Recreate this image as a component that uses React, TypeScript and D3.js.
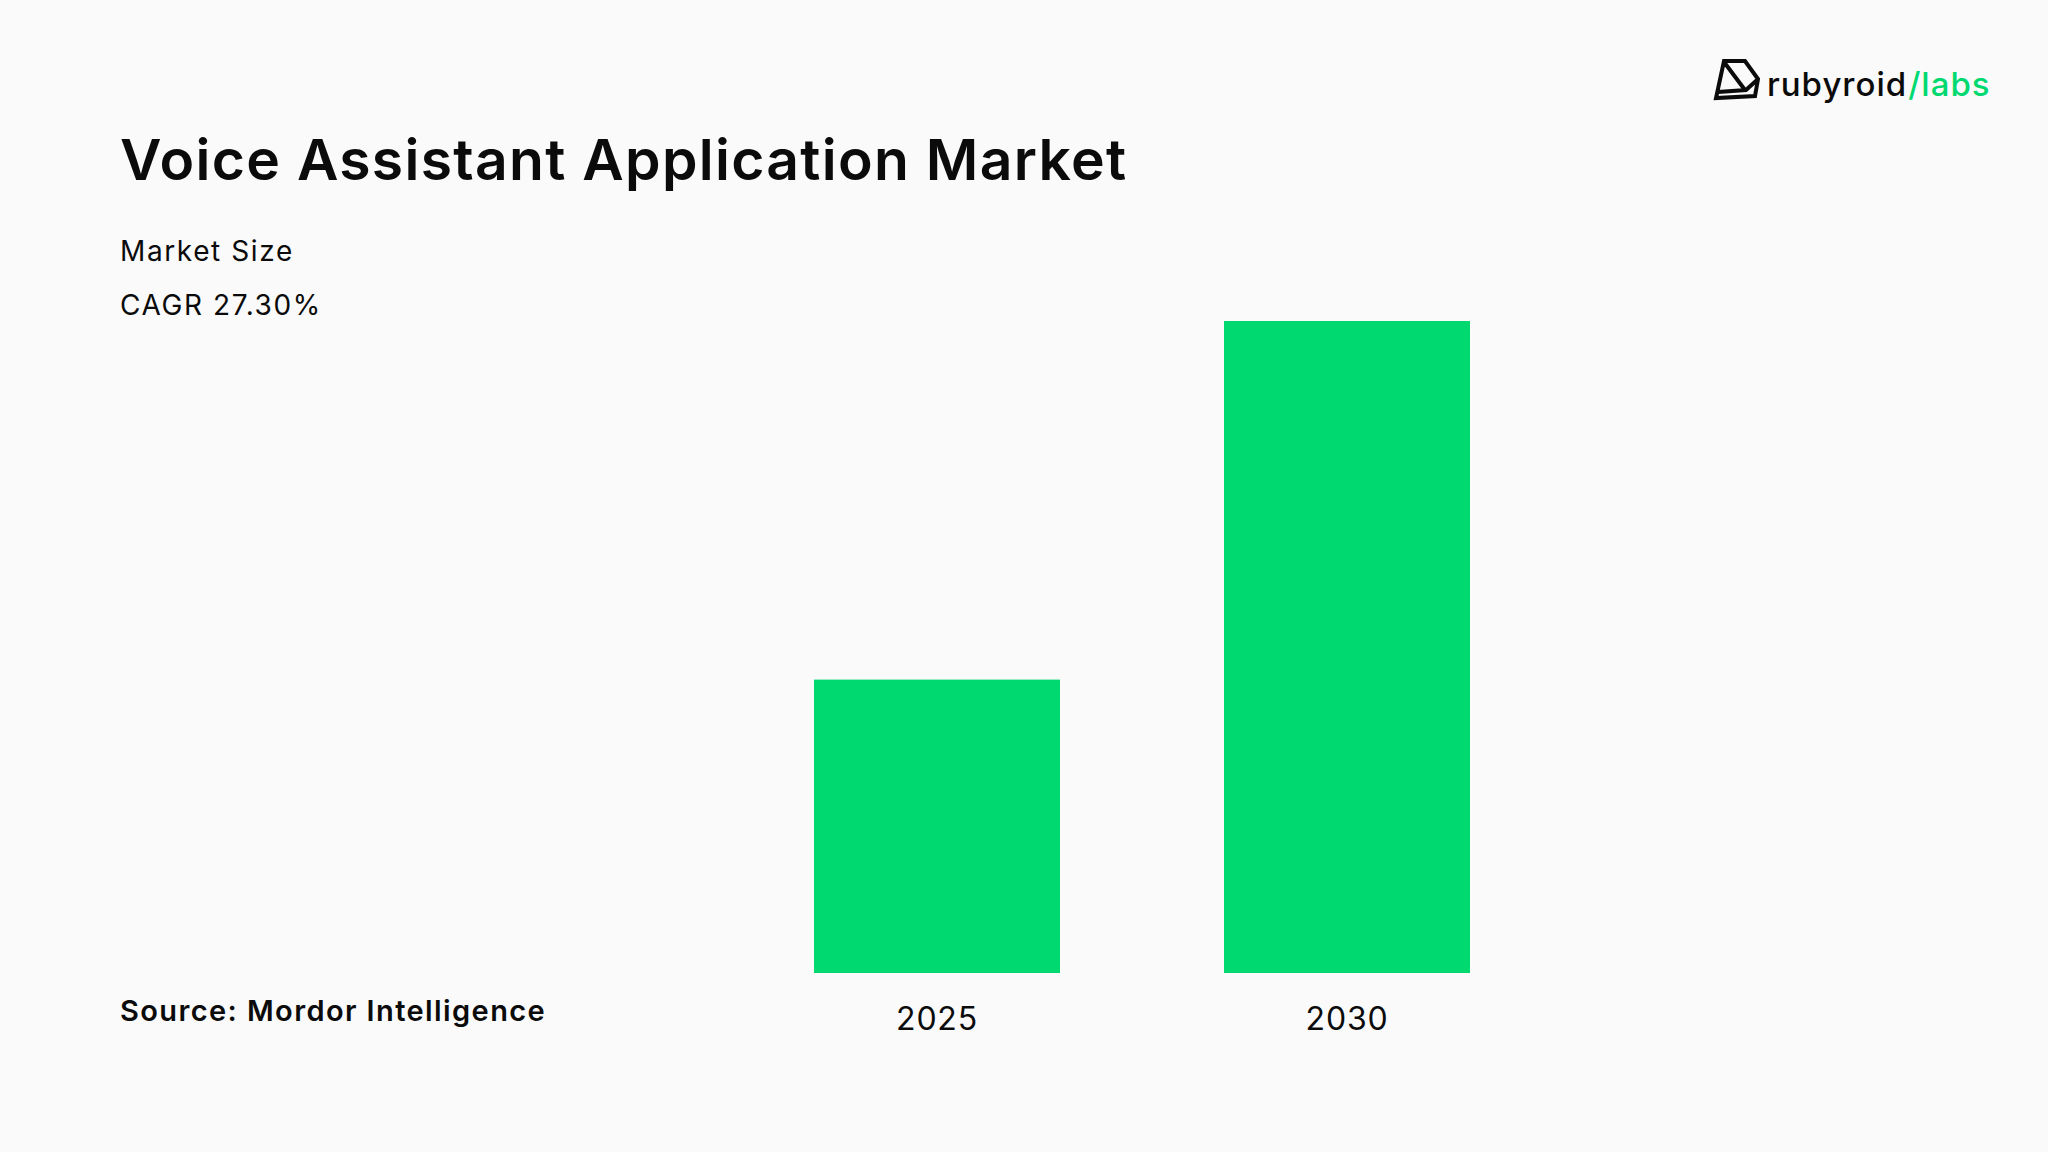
import { useEffect, useRef } from "react"
import * as d3 from "d3"

const years = ["2025", "2030"]
const marketSize = [4.5, 10.0]

const title = "Voice Assistant Application Market"
const subtitles = ["Market Size", "CAGR 27.30%"]
const source = "Source: Mordor Intelligence"

const GREEN = "#00d96f"
const INK = "#0b0b0b"
const FONT = "Inter, 'Noto Sans', sans-serif"

export default function App() {
  const svgRef = useRef(null)

  useEffect(() => {
    const width = 2048
    const height = 1152

    const svg = d3.select(svgRef.current).attr("width", width).attr("height", height)
    svg.selectAll("*").remove()

    svg.append("rect").attr("width", width).attr("height", height).attr("fill", "#fafafa")

    const x = d3.scaleBand().domain(years).range([732, 1552]).paddingInner(0.4).paddingOuter(0.2)
    const y = d3.scaleLinear().domain([0, 10]).range([973, 321])

    // title block
    svg
      .append("text")
      .attr("x", 120)
      .attr("y", 180)
      .attr("font-family", FONT)
      .attr("font-size", 57)
      .attr("font-weight", 600)
      .attr("letter-spacing", 1.3)
      .attr("fill", INK)
      .text(title)

    svg
      .selectAll("text.sub")
      .data(subtitles)
      .enter()
      .append("text")
      .attr("class", "sub")
      .attr("x", 120)
      .attr("y", (d, i) => 261 + i * 54)
      .attr("font-family", FONT)
      .attr("font-size", 28)
      .attr("letter-spacing", 1.6)
      .attr("fill", INK)
      .text((d) => d)

    svg
      .append("text")
      .attr("x", 120)
      .attr("y", 1021)
      .attr("font-family", FONT)
      .attr("font-size", 29)
      .attr("font-weight", 600)
      .attr("letter-spacing", 1.4)
      .attr("fill", INK)
      .text(source)

    // bars
    svg
      .selectAll("rect.bar")
      .data(years)
      .enter()
      .append("rect")
      .attr("class", "bar")
      .attr("x", (d) => x(d))
      .attr("width", x.bandwidth())
      .attr("y", (d, i) => y(marketSize[i]))
      .attr("height", (d, i) => y(0) - y(marketSize[i]))
      .attr("fill", GREEN)

    const axis = d3.axisBottom(x).tickSize(0).tickPadding(0)
    const ax = svg.append("g").attr("transform", `translate(0, ${y(0)})`).call(axis)
    ax.select(".domain").remove()
    ax.selectAll("text")
      .attr("dy", null)
      .attr("y", 57)
      .attr("font-family", FONT)
      .attr("font-size", 32)
      .attr("letter-spacing", 0.8)
      .attr("fill", INK)

    // logo
    const logo = svg.append("g")
    logo
      .append("path")
      .attr("d", "M1724,61 L1745,61 L1758,79 L1755,96 L1716,98 Z M1724,62 L1745,90 M1718,92 L1746,90 L1757,80")
      .attr("fill", "none")
      .attr("stroke", INK)
      .attr("stroke-width", 4)
      .attr("stroke-linejoin", "miter")

    const lt = logo
      .append("text")
      .attr("x", 1767)
      .attr("y", 96)
      .attr("font-family", FONT)
      .attr("font-size", 33)
      .attr("font-weight", 500)
      .attr("letter-spacing", 1)
    lt.append("tspan").attr("fill", INK).text("rubyroid")
    lt.append("tspan").attr("fill", GREEN).attr("dx", 1).text("/labs")
  }, [])

  return <svg ref={svgRef} style={{ position: "absolute", left: 0, top: 0 }}></svg>
}
